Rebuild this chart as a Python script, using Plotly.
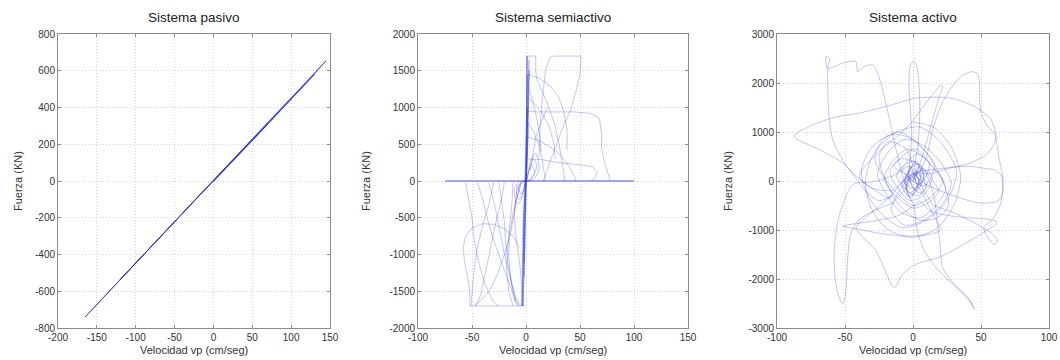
import plotly.graph_objects as go

# ---------------- data ----------------
# Sistema pasivo
pasivo_v = [0, 35, 80, 120, 145, 110, 60, 10, -40, -90, -130, -165, -140, -95, -50,
            -5, 40, 95, 130, 90, 30, -30, -80, -120, -75, -20, 25, 70, 50, 0]
pasivo_f = [-3, 152, 354, 536, 655, 497, 274, 48, -176, -401, -581, -740, -624, -423, -221,
            -20, 178, 423, 580, 407, 137, -132, -356, -536, -335, -88, 110, 312, 226, 2]

# Sistema semiactivo
semi_cero_v = [-75, -40, 0, 50, 100]
semi_cero_f = [0, 0, 0, 0, 0]

semi_banda_v = [0, 0.4, 0.8, 1.2, 0.6, 0, -0.5, -1.2, -2, -2.8, -1.5, -0.3, 0.3, 1.5, 2.2,
                2.8, 1.8, 0.5, -0.8, -2.2, -3.5, -3, -1, 0.2, 1, 2.5, 3.2, 2, 0.4, -1.5,
                -3, -4, -2.5, -0.5, 0.6, 1.8, 1.2, 0, -1, -2.5, -1.8, -0.2, 0.9, 2.6, 1.5,
                0.1, -1.2, -3.2, -2, -0.4, 0.5, 1.4, 0.7, 0]
semi_banda_f = [0, 450, 1100, 1700, 800, 0, -300, -900, -1400, -1700, -700, 0, 200, 700, 1300,
                1650, 900, 100, -200, -650, -1200, -1700, -900, -50, 300, 900, 1500, 1200, 200, -300,
                -1000, -1700, -1000, -100, 150, 600, 1000, 350, -150, -500, -1100, -200, 250, 800, 1450,
                400, -100, -700, -1300, -400, 100, 550, 1700, 0]

semi_origen_v = [0, 3, 7, 10, 6, 2, 0, -2, -6, -9, -5, -1, 0, 4, 9, 12, 8, 3, 0, -3,
                 -8, -11, -7, -2, 0, 2, 5, 8, 4, 1, 0, -1, -4, -7, -3, 0]
semi_origen_f = [0, 150, 300, 200, 60, 0, 0, -100, -250, -150, -30, 0, 0, 250, 380, 150, 40, 0, 0, -200,
                 -320, -120, -20, 0, 0, 100, 220, 120, 20, 0, 0, -60, -180, -90, -10, 0]

semi_q1_v = [0.5, 9, 9, 10, 14, 20, 26, 30, 33, 35, 36, None,
             2, 12, 22, 30, 35, 38, 38, None,
             12, 13, 15, 18, 22, 26, 51, 50, 46, 40, 33, 27, 22, 18, 16, None,
             2, 10, 20, 45, 60, 68, 70, 70, 72, 76, 78, None,
             1, 8, 16, 22, 26, 27, None,
             20, 14, 9, 6, 4, None,
             1, 10, 22, 32, 40, 45, 46, None,
             2, 15, 30, 50, 62, 66, 64, 60, None,
             1, 6, 12, 15, 17, 18, None,
             3, 6, 10, 13, 14]
semi_q1_f = [1700, 1700, 1500, 1380, 1250, 1050, 800, 550, 300, 100, 0, None,
             1450, 1400, 1300, 1150, 950, 700, 420, None,
             300, 700, 1100, 1500, 1680, 1700, 1700, 1450, 1200, 920, 690, 460, 250, 80, 0, None,
             950, 940, 940, 940, 920, 850, 650, 450, 300, 120, 0, None,
             1150, 1050, 900, 720, 500, 300, None,
             1000, 800, 600, 350, 150, None,
             600, 560, 470, 350, 200, 60, 0, None,
             300, 290, 250, 220, 190, 120, 40, 0, None,
             800, 700, 500, 300, 100, 0, None,
             1250, 1100, 850, 600, 400]

semi_q3_v = [-52, 0, None,
             -52, -52, -54, -57, -58, -56, -50, -40, -30, -20, -12, -6, None,
             -56, -54, -50, -48, -44, -38, -30, -25, None,
             -45, -40, -36, -30, -24, -18, -12, -8, None,
             -30, -34, -40, -45, -48, -50, -51, None,
             -20, -22, -26, -30, -34, -38, -42, -46, None,
             -12, -13, -15, -17, -18, -16, -12, None,
             -8, -10, -14, -20, -26, -32, -40, -48, None,
             -35, -32, -28, -24, -20, -15, -10, -7, None,
             -5, -8, -12, -15, -16, -14, -10, None,
             -25, -22, -20, -19, -17, -13, -9, -5, None,
             -3, -4, -6, -9, -11, -10, -7, -4]
semi_q3_f = [-1700, -1700, None,
             -1700, -1500, -1300, -1100, -900, -750, -640, -580, -590, -650, -750, -900, None,
             -20, -200, -500, -800, -1100, -1400, -1650, -1700, None,
             -20, -250, -500, -800, -1050, -1300, -1550, -1700, None,
             -20, -300, -600, -900, -1200, -1500, -1700, None,
             -20, -200, -450, -700, -1000, -1300, -1550, -1700, None,
             -20, -300, -600, -900, -1200, -1500, -1700, None,
             -50, -350, -700, -1000, -1250, -1450, -1600, -1700, None,
             -20, -150, -400, -700, -1000, -1300, -1600, -1700, None,
             -30, -200, -450, -700, -1000, -1350, -1650, None,
             -20, -300, -550, -800, -1100, -1400, -1600, -1700, None,
             -1700, -1400, -1100, -800, -500, -300, -150, -30]

# Sistema activo
activo_v = [-4, -7.6, -11.3, -16.2, -21.1, -26, -29.7, -35.8, -40.7, -41.9, -51.7, -62.7, -64, -61, -62.5, -61.9, -59, -50.5, -43.2, -35, -25, -15,
            -18, -30, -41.9, -51.7, -68.9, -87.3, -76.2, -56.6, -39.5, -19.9, 2.2, 15, 27.9, 45, 57.4, 61, 58.6, 52, 40, 25, 12,
            2, 4, 5, 4, 2, 0, -2, -3, -2, -1, -2, -4,
            -4, 5, 10, 14, 20, 28, 36, 43, 47, 49, 49, 50, 54, 60, 62, 63, 66, 66, 64, 58, 52, 55, 60, 62, 57, 45, 30, 15,
            15, 8, -2, -15, -30, -44, -54, -57.8, -57.1, -54, -51.7, -49.3, -48, -46, -40, -28, -15,
            -15, -4, 5, 12, 16, 18, 20, 21.8, 30, 40.2, 45, 42, 35, 25, 15, 8, 3, 1,
            1, -5, -1, -20, -35, -41.9, -27.2, -13.7, -7.6, 2.2, 20, 35.3, 57.4, 62, 55, 40, 25, 13, 5,
            5, -10, -30, -51.7, -45, -39.5, -27.2, -7.6, 10, 20, 15,
            15, 8, 2, 8, 14, 19, 21.8, 20, 17, 13.2, 5.9, -1.5, -12, -25, -39.5, -30, -15,
            -15, 0, 20, 40, 55, 59.6, 62, 64.7, 66, 63, 50, 35, 20, 8]
activo_f = [-100, 98, 504, 1115, 1725, 2200, 2369, 2335, 2233, 2437, 2404, 2302, 2540, 2480, 2350, 1387, 844, 370, 98, -200, -400, -300,
            -350, -150, 98, 370, 640, 911, 1114, 1306, 1387, 1522, 1692, 1710, 1692, 1522, 1251, 911, 696, 500, 350, 250, 150,
            200, 800, 1500, 2100, 2400, 2430, 2350, 2000, 1500, 1000, 500, 0,
            0, 200, 500, 1000, 1500, 1900, 2150, 2230, 2200, 2000, 1700, 1400, 1150, 950, 700, 500, 100, -200, -500, -800, -950, -1150, -1300, -1200, -1050, -850, -650, -500,
            -500, -200, 300, 100, -20, -71, -681, -1359, -2038, -2400, -2512, -2241, -1563, -1100, -800, -600, -450,
            -450, -100, 300, 0, -400, -900, -1300, -1765, -2100, -2376, -2614, -2450, -2250, -2000, -1700, -1400, -1000, -500,
            -500, -150, 150, -400, -750, -952, -1428, -2172, -1902, -1698, -1550, -1326, -953, -850, -780, -750, -700, -614, -400,
            -400, -700, -820, -920, -960, -987, -1054, -1123, -1100, -1000, -700,
            -700, -300, 0, 600, 1200, 1700, 1928, 1950, 1850, 1725, 1454, 1183, 900, 600, 98, -150, -200,
            -200, 150, 250, 300, 250, 234, 180, 132, -207, -400, -450, -350, -200, -50]

activo_medio_v = [0, 15, 28, 35, 30, 18, 0, -18, -30, -35, -28, -12, 5, 20, 32, 25, 10, -8,
                  -22, -33, -38, -30, -15, 0, 12, 22, 26, 18, 5, -10, -20, -25, -18, -5, 0]
activo_medio_f = [1200, 1100, 700, 100, -500, -950, -1150, -1000, -600, 0, 600, 1000, 1100, 800, 200, -400, -800, -950,
                  -700, -300, 200, 700, 950, 850, 500, 0, -500, -750, -800, -500, 0, 500, 800, 650, 300]

activo_centro_v = [0, 6, 14, 9, -2, -11, -17, -9, 4, 13, 19, 11, 0, -13, -21, -15, -4, 7, 17, 24,
                   17, 5, -8, -19, -26, -18, -6, 9, 21, 28, 22, 8, -6, -16, -10, 2, 10, 4, -4, -12,
                   -6, 4, 14, 22, 12, 0, -10, -22, -28, -22, -10, 4, 16, 8, -2, -8, 0, 8, 2, -6,
                   -2, 4, 10, 6, 0, -4, -14, -8, 2, 12, 6, -2]
activo_centro_f = [0, 250, 100, -250, -400, -150, 200, 450, 350, 50, -200, -450, -550, -300, 50, 400, 650, 500, 200, -150,
                   -500, -750, -650, -300, 150, 600, 850, 700, 350, -50, -450, -800, -900, -600, -200, 150, -50, -300, -200, 100,
                   350, 550, 300, 0, -350, -500, -300, 100, 450, 850, 1000, 750, 300, -100, 50, 250, 400, 100, -150, -50,
                   200, 50, -100, -250, -150, 100, 300, 500, 650, 350, -50, 0]
activo_nucleo_v = [0, 3, 6, 2, -3, -6, -2, 4, 8, 3, -4, -8, -3, 2, 6, 3, -2, -5, 0, 4, 2, -3, -2, 2, 0]
activo_nucleo_f = [0, 200, 50, -150, -250, 0, 250, 350, 100, -200, -300, -50, 200, 400, 150,
                   -100, -350, -100, 150, 50, -200, 100, 300, 0, 100]

titulos = ["Sistema pasivo", "Sistema semiactivo", "Sistema activo"]
etiqueta_x = "Velocidad vp (cm/seg)"
etiqueta_y = "Fuerza (KN)"
ticks_x = [[-200, -150, -100, -50, 0, 50, 100, 150],
           [-100, -50, 0, 50, 100, 150],
           [-100, -50, 0, 50, 100]]
ticks_y = [[-800, -600, -400, -200, 0, 200, 400, 600, 800],
           [-2000, -1500, -1000, -500, 0, 500, 1000, 1500, 2000],
           [-3000, -2000, -1000, 0, 1000, 2000, 3000]]

# ---------------- figure ----------------
W, H = 1060, 360
FONT = "Liberation Sans, Arial, Helvetica, sans-serif"
LINE = "rgba(30,40,215,0.45)"

fig = go.Figure()

def add(x, y, k, color=LINE, width=0.6, shape="linear"):
    fig.add_trace(go.Scatter(x=x, y=y, mode="lines", xaxis="x" if k == 1 else f"x{k}",
                             yaxis="y" if k == 1 else f"y{k}", connectgaps=False,
                             line=dict(color=color, width=width, shape=shape, smoothing=0.8),
                             hoverinfo="skip", showlegend=False))

add(pasivo_v, pasivo_f, 1, color="rgba(40,50,210,0.75)", width=1.0)
add(semi_q1_v, semi_q1_f, 2)
add(semi_q3_v, semi_q3_f, 2)
add(semi_origen_v, semi_origen_f, 2, shape="spline")
add(semi_banda_v, semi_banda_f, 2, color="rgba(30,40,215,0.45)", width=0.6)
add(semi_cero_v, semi_cero_f, 2, color="rgba(30,40,215,0.8)", width=1)
add(activo_v, activo_f, 3, shape="spline")
add(activo_medio_v, activo_medio_f, 3, shape="spline")
add(activo_centro_v, activo_centro_f, 3, shape="spline")
add(activo_nucleo_v, activo_nucleo_f, 3, color="rgba(30,40,215,0.55)", shape="spline")

# plot-area pixel boxes
boxes_x = [(58, 330), (418, 688), (777, 1049)]
top_px, bot_px = 34, 328
ydom = [1 - bot_px / H, 1 - top_px / H]

axis_common = dict(showline=True, linecolor="#8a8a8a", linewidth=1, mirror="ticks",
                   ticks="inside", ticklen=3, tickcolor="#8a8a8a", showgrid=True,
                   gridcolor="#d4d4d4", griddash="1px,2px", gridwidth=1, zeroline=False,
                   tickfont=dict(family=FONT, size=10, color="#333333"), automargin=False)

layout = dict(width=W, height=H, margin=dict(l=0, r=0, t=0, b=0),
              paper_bgcolor="white", plot_bgcolor="white", showlegend=False)

annotations = []
for i in range(3):
    k = i + 1
    xs = "" if k == 1 else str(k)
    x0, x1 = boxes_x[i]
    layout[f"xaxis{xs}"] = dict(axis_common, domain=[x0 / W, x1 / W], anchor=f"y{xs}",
                                range=[ticks_x[i][0], ticks_x[i][-1]], tickmode="array",
                                tickvals=ticks_x[i], ticktext=[str(t) for t in ticks_x[i]])
    layout[f"yaxis{xs}"] = dict(axis_common, domain=ydom, anchor=f"x{xs}",
                                range=[ticks_y[i][0], ticks_y[i][-1]], tickmode="array",
                                tickvals=ticks_y[i], ticktext=[str(t) for t in ticks_y[i]])
    cx = (x0 + x1) / 2 / W
    annotations.append(dict(text=titulos[i], x=cx, y=1 - 17 / H, xref="paper", yref="paper",
                            showarrow=False, xanchor="center", yanchor="middle",
                            font=dict(family=FONT, size=13.5, color="#222222")))
    annotations.append(dict(text=etiqueta_x, x=cx, y=1 - 350 / H, xref="paper", yref="paper",
                            showarrow=False, xanchor="center", yanchor="middle",
                            font=dict(family=FONT, size=11, color="#333333")))
ylab_px = [18, 366, 728]
for i in range(3):
    annotations.append(dict(text=etiqueta_y, x=ylab_px[i] / W, y=1 - 181 / H, xref="paper",
                            yref="paper", showarrow=False, textangle=-90,
                            xanchor="center", yanchor="middle",
                            font=dict(family=FONT, size=11, color="#333333")))
layout["annotations"] = annotations

fig.update_layout(**layout)
fig.write_html("out.html")
